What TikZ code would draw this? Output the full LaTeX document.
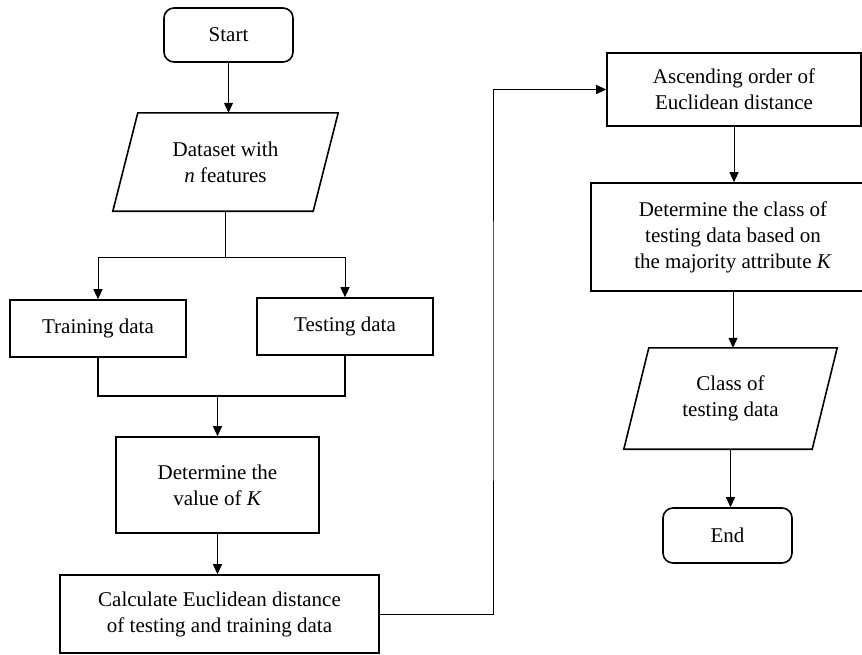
\documentclass[tikz,border=0pt]{standalone}
\usepackage{fontspec}
\setmainfont{Liberation Serif}
\usetikzlibrary{arrows.meta}
\begin{document}
\begin{tikzpicture}[x=1pt,y=-1pt,
  every node/.style={font=\fontsize{21}{26}\selectfont, align=center, inner sep=0pt},
  boxst/.style={draw, line width=1.6pt, rectangle},
  termst/.style={draw, line width=1.6pt, rectangle, rounded corners=10pt},
  iost/.style={rectangle},
  iodraw/.style={line width=1.6pt},
  conn/.style={line width=1pt, -{Triangle[length=10pt,width=9pt]}},
  plainline/.style={line width=1pt}
]
\useasboundingbox (0,0) rectangle (862,654);

\node[termst, minimum width=129pt, minimum height=54pt] (start) at (228.5,35) {Start};
\node[iost, minimum width=225pt, minimum height=98pt] (ds) at (225.5,162) {Dataset with\\\textit{n} features};
\draw[iodraw] ([xshift=25pt]ds.north west) -- (ds.north east) -- ([xshift=-25pt]ds.south east) -- (ds.south west) -- cycle;
\node[boxst, minimum width=176pt, minimum height=57pt] (train) at (98,328.5) {Training data};
\node[boxst, minimum width=176pt, minimum height=57pt] (test) at (345,326.5) {Testing data};
\node[boxst, minimum width=203pt, minimum height=96pt] (detk) at (217.5,485) {Determine the\\value of \textit{K}};
\node[boxst, minimum width=319pt, minimum height=78pt] (calc) at (219.5,614) {Calculate Euclidean distance\\of testing and training data};
\node[boxst, minimum width=254pt, minimum height=73pt] (asc) at (734,89.5) {Ascending order of\\Euclidean distance};
\node[boxst, minimum width=284pt, minimum height=108pt] (cls) at (733,237) {Determine the class of\\testing data based on\\the majority attribute \textit{K}};
\node[iost, minimum width=213pt, minimum height=101pt] (outp) at (730.5,398.5) {Class of\\testing data};
\draw[iodraw] ([xshift=25pt]outp.north west) -- (outp.north east) -- ([xshift=-25pt]outp.south east) -- (outp.south west) -- cycle;
\node[termst, minimum width=129pt, minimum height=55pt] (end) at (727.5,535.5) {End};

\coordinate (split) at (225.5,257);
\coordinate (merge) at (217.5,396);
\coordinate (turn) at (493,350);

\draw[conn] (start.south) -- (start.south |- ds.north);
\draw[plainline] (ds.south) -- (split);
\draw[conn] (split) -| (train.north);
\draw[conn] (split) -| (test.north);
\draw[line width=1.8pt] (train.south) |- (merge) -| (test.south);
\draw[conn] (merge) -- (detk.north);
\draw[conn] (detk.south) -- (detk.south |- calc.north);
\draw[conn] (calc.east) -| (turn) |- (asc.west);
\draw[conn] (asc.south) -- (asc.south |- cls.north);
\draw[conn] (cls.south) -- (cls.south |- outp.north);
\draw[conn] (outp.south) -- (outp.south |- end.north);
\end{tikzpicture}
\end{document}
